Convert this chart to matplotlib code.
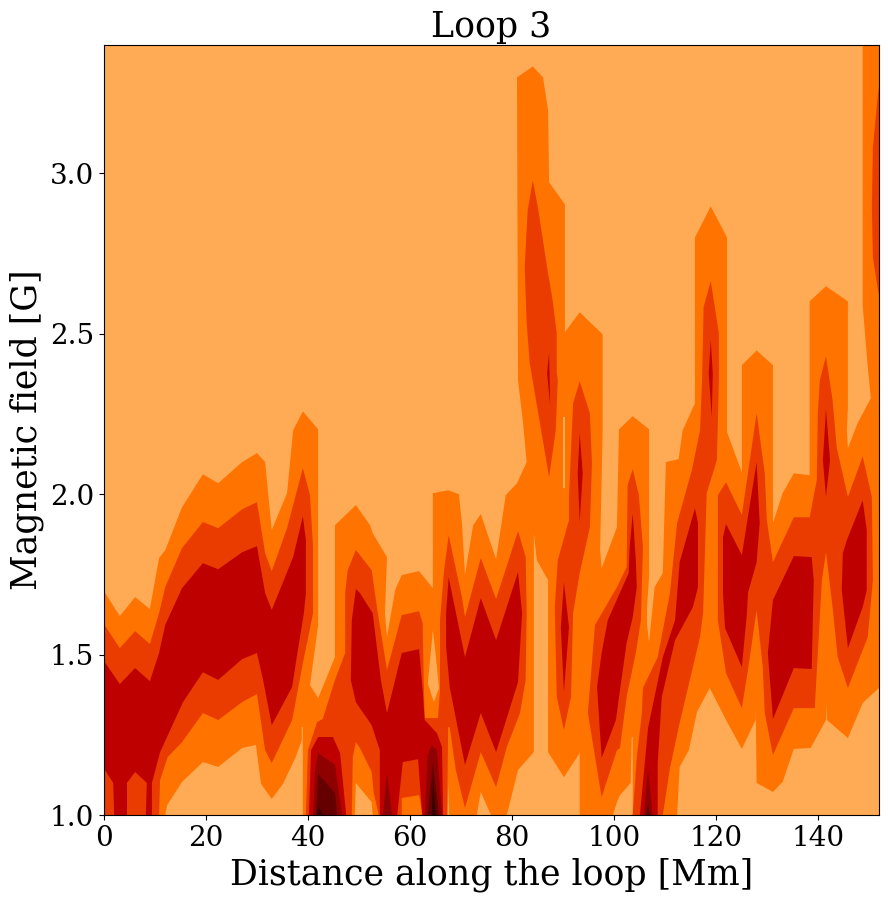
import matplotlib
matplotlib.use("Agg")
import matplotlib.pyplot as plt

plt.rcParams['font.family'] = 'DejaVu Serif'

# Band colours, low to high field density
c_base = '#ffaa55'
c_1 = '#ff7300'
c_2 = '#ea3c00'
c_3 = '#be0000'
c_4 = '#8f0000'
c_5 = '#640000'
c_6 = '#3a0000'

# Contour outlines: distance [Mm], field [G]
# level 1
l1_x = [0, 3.1, 6.1, 9.0, 10.8, 12.0, 15.3, 19.4, 22.4, 27.1, 30.0, 31.6, 32.9, 35.9, 37.1, 39.0, 42.0, 42.0, 40.4, 42.0,
        45.3, 45.3, 49.4, 52.2, 52.7, 55.5, 55.1, 55.5, 57.1, 58.4, 61.8, 64.5, 64.5, 67.5, 69.6, 70.2, 70.8, 72.4, 73.9,
        76.9, 78.8, 81.0, 82.9, 82.2, 81.2, 81.0, 84.1, 86.1, 87.1, 87.3, 90.4, 90.4, 93.3, 97.8, 97.8, 97.3, 97.6, 100.6,
        101.0, 103.7, 106.9, 106.9, 106.5, 106.5, 106.9, 108.0, 109.6, 110.2, 112.7, 113.5, 115.9, 115.9, 119.0, 122.2,
        122.2, 125.1, 125.1, 128.0, 131.2, 131.2, 133.1, 135.3, 138.4, 138.4, 141.6, 145.9, 145.9, 145.7, 145.9, 147.8,
        150.4, 149.8, 148.8, 148.8, 152, 152, 0]
l1_y = [1.698, 1.620, 1.679, 1.642, 1.801, 1.825, 1.959, 2.062, 2.034, 2.100, 2.128, 2.100, 1.888, 2.003, 2.199, 2.258,
        2.202, 1.592, 1.405, 1.364, 1.492, 1.903, 1.966, 1.903, 1.878, 1.804, 1.629, 1.554, 1.701, 1.748, 1.760, 1.707,
        2.003, 2.012, 2.000, 1.910, 1.748, 1.903, 1.938, 1.797, 1.997, 2.034, 2.100, 2.221, 2.355, 3.299, 3.333, 3.299,
        3.196, 2.972, 2.903, 2.505, 2.567, 2.498, 2.199, 1.825, 1.769, 1.897, 2.202, 2.243, 2.202, 1.741, 1.648, 1.592,
        1.539, 1.710, 1.754, 2.100, 2.109, 2.199, 2.283, 2.800, 2.897, 2.800, 2.193, 2.068, 2.402, 2.448, 2.402, 1.910,
        2.003, 2.065, 2.059, 2.601, 2.648, 2.601, 2.268, 2.199, 2.143, 2.221, 2.299, 2.396, 2.589, 3.4, 3.4, 1, 1]

# pockets of the base colour cut out of level 1
gap_x = [
    [12.0, 12.4, 15.3, 19.4, 22.4, 27.1, 29.8, 30.8, 32.9, 35.1, 37.6, 38.8, 38.8, 39.0, 39.0],
    [49.2, 49.4, 50.2, 52.5, 52.7],
    [67.4, 67.5, 67.7],
    [73.1, 73.9, 75.9],
    [79.0, 81.2, 84.3, 84.3, 84.9, 87.1, 87.1, 90.2, 93.3, 93.3],
    [99.8, 100.6, 101.2, 103.3, 103.5, 103.7, 103.7],
    [112.4, 112.9, 114.7, 116.3, 118.8, 122.0, 125.1, 127.8, 127.8, 128.0, 131.2, 133.1, 135.3, 138.6, 141.6, 141.6,
     141.8, 145.9, 148.8, 152, 152],
    [64.5, 63.7, 63.5, 64.7, 65.7, 64.9],
    [90.1, 90.4, 90.4, 90.1],
]
gap_y = [
    [1, 1.031, 1.103, 1.165, 1.150, 1.209, 1.218, 1.097, 1.050, 1.097, 1.181, 1.234, 1.274, 1.274, 1],
    [1, 1.100, 1.084, 1.040, 1],
    [1, 1.103, 1],
    [1, 1.072, 1],
    [1, 1.140, 1.196, 1.878, 1.794, 1.732, 1.196, 1.118, 1.193, 1],
    [1, 1.040, 1.062, 1.100, 1.243, 1.243, 1],
    [1, 1.150, 1.202, 1.321, 1.396, 1.296, 1.206, 1.296, 1.349, 1.100, 1.072, 1.103, 1.206, 1.209, 1.296, 1.352,
     1.296, 1.240, 1.349, 1.396, 1],
    [1.576, 1.442, 1.411, 1.352, 1.396, 1.523],
    [2.240, 2.240, 2.019, 2.019],
]

# level 2
l2_x = [
    [0, 3.1, 6.1, 9.0, 10.8, 12.0, 15.3, 19.4, 22.4, 27.1, 30.0, 31.6, 32.9, 35.9, 39.0, 40.4, 41.0, 41.0, 40.0, 39.0,
     36.9, 32.9, 31.6, 30.0, 27.1, 22.4, 19.4, 15.3, 12.5, 11.0, 10.8, 0],
    [39.6, 40.0, 41.8, 42.9, 45.3, 47.3, 47.3, 47.8, 49.4, 50.2, 52.5, 53.7, 55.5, 58.4, 61.8, 62.5, 62.7, 62.9, 65.5,
     65.9, 65.9, 66.7, 67.6, 70.2, 70.8, 73.9, 76.9, 81.2, 82.7, 82.9, 82.7, 81.6, 79.0, 76.9, 73.9, 70.8, 69.0, 67.8,
     67.5, 67.3, 62.5, 61.8, 58.4, 58.4, 53.9, 52.9, 52.5, 50.2, 49.4, 48.8, 48.6],
    [84.1, 85.1, 86.9, 88.0, 88.8, 88.8, 89.0, 88.6, 87.3, 85.5, 83.5, 82.9, 82.5, 83.1],
    [93.3, 95.3, 95.7, 95.3, 93.3, 92.0, 91.6, 90.2, 88.8, 88.4, 89.0, 91.2, 91.2, 92.0],
    [103.7, 104.9, 105.7, 105.3, 104.3, 102.5, 101.2, 100.6, 97.6, 94.9, 96.3, 100.6, 102.5, 102.7],
    [119.0, 119.8, 120.6, 120.6, 120.2, 118.2, 117.5, 116.9, 112.9, 111.0, 109.6, 103.7, 104.5, 105.5, 105.7, 108.6,
     111.0, 112.4, 115.3, 116.9, 117.3, 117.6],
    [122.0, 125.1, 128.0, 129.6, 130.0, 131.2, 135.3, 138.4, 139.8, 140.0, 140.4, 141.6, 142.9, 143.7, 145.9, 148.8,
     150.6, 150.8, 149.8, 145.9, 143.9, 142.9, 141.6, 140.8, 139.4, 135.3, 131.2, 129.6, 129.2, 128.0, 126.3, 125.1,
     122.0, 120.4, 120.4],
    [152, 151.8, 150.8, 150.6, 150.8, 151.8, 152],
]
l2_y = [
    [1.595, 1.520, 1.573, 1.533, 1.629, 1.710, 1.832, 1.913, 1.894, 1.953, 1.975, 1.816, 1.760, 1.894, 2.081, 1.997,
     1.835, 1.629, 1.551, 1.473, 1.296, 1.162, 1.202, 1.377, 1.352, 1.296, 1.318, 1.227, 1.181, 1.109, 1, 1],
    [1, 1.202, 1.290, 1.299, 1.421, 1.505, 1.692, 1.763, 1.826, 1.810, 1.763, 1.629, 1.452, 1.623, 1.635, 1.598, 1.421,
     1.302, 1.302, 1.389, 1.607, 1.763, 1.872, 1.679, 1.617, 1.801, 1.673, 1.885, 1.804, 1.629, 1.421, 1.318, 1.212,
     1.087, 1.196, 1.022, 1.140, 1.274, 1.274, 1, 1, 1.062, 1.053, 1, 1, 1.069, 1.134, 1.209, 1.227, 1.181, 1],
    [2.978, 2.894, 2.707, 2.604, 2.501, 2.377, 2.355, 2.199, 2.053, 2.221, 2.408, 2.533, 2.707, 2.885],
    [2.352, 2.252, 2.097, 1.897, 1.754, 1.629, 1.368, 1.265, 1.368, 1.648, 1.794, 1.919, 1.991, 2.283],
    [2.078, 1.997, 1.835, 1.607, 1.505, 1.368, 1.209, 1.202, 1.056, 1.318, 1.592, 1.710, 1.773, 2.028],
    [2.664, 2.583, 2.501, 2.355, 2.106, 2.003, 1.629, 1.555, 1.287, 1.146, 1, 1, 1.181, 1.318, 1.396, 1.492, 1.692,
     1.910, 2.075, 2.199, 2.355, 2.583],
    [2.037, 1.935, 2.252, 2.065, 1.919, 1.788, 1.928, 1.928, 2.044, 2.252, 2.355, 2.430, 2.293, 2.146, 1.991, 2.118,
     1.991, 1.732, 1.555, 1.396, 1.492, 1.648, 1.819, 1.732, 1.333, 1.333, 1.187, 1.318, 1.461, 1.639, 1.452, 1.333,
     1.442, 1.607, 1.997],
    [3.27, 3.249, 3.081, 2.894, 2.738, 2.636, 2.62],
]

# level 3
l3_x = [
    [0, 3.1, 6.1, 9.0, 10.8, 12.0, 15.3, 19.4, 22.4, 27.1, 30.0, 31.6, 32.9, 37.1, 39.0, 39.6, 39.6, 39.2, 37.8, 36.9,
     32.9, 31.2, 30.0, 27.1, 22.4, 19.4, 15.5, 11.0, 9.4, 9.4, 8.2, 8.4, 6.1, 4.5, 4.5, 2.0, 1.8, 0.2, 0],
    [49.4, 50.2, 52.7, 54.3, 55.5, 58.4, 61.8, 62.5, 62.9, 65.3, 66.3, 66.5, 62.4, 61.6, 58.6, 57.5, 54.1, 54.1, 52.5,
     50.2, 49.4, 48.4, 48.6],
    [42.0, 44.9, 46.3, 47.5, 40.2, 40.6],
    [67.6, 70.8, 73.9, 76.9, 81.2, 82.0, 81.2, 76.9, 73.9, 70.8, 67.8, 67.1, 67.1],
    [103.7, 104.3, 104.5, 103.7, 102.5, 101.2, 100.4, 97.6, 96.7, 97.6, 98.8, 102.9, 103.1],
    [115.9, 116.5, 116.5, 115.5, 112.0, 109.4, 108.6, 108.6, 105.1, 106.7, 109.6, 112.0, 112.9],
    [122.0, 125.1, 128.0, 128.6, 128.0, 126.3, 126.1, 125.1, 121.8, 121.4, 121.4],
    [135.3, 138.8, 139.2, 138.8, 135.3, 131.2, 130.2, 131.2],
    [148.8, 149.6, 149.6, 148.8, 145.9, 144.7, 144.9, 145.7],
    [141.6, 142.4, 141.6, 141.0],
    [119.0, 119.4, 119.2, 118.6],
    [87.3, 87.5, 86.9],
    [93.3, 93.9, 93.3, 92.9],
    [90.2, 91.2, 90.2, 89.6],
]
l3_y = [
    [1.480, 1.408, 1.458, 1.417, 1.505, 1.592, 1.707, 1.785, 1.766, 1.819, 1.838, 1.692, 1.639, 1.804, 1.931, 1.857,
     1.692, 1.629, 1.492, 1.399, 1.280, 1.421, 1.505, 1.486, 1.421, 1.445, 1.352, 1.196, 1.100, 1, 1, 1.100, 1.134,
     1.100, 1, 1, 1.100, 1.140, 1.140],
    [1.704, 1.692, 1.629, 1.421, 1.318, 1.505, 1.517, 1.389, 1.296, 1.255, 1.212, 1, 1, 1.174, 1.165, 1, 1, 1.202,
     1.280, 1.333, 1.352, 1.421, 1.607],
    [1.243, 1.243, 1.193, 1, 1, 1.202],
    [1.741, 1.492, 1.676, 1.545, 1.757, 1.629, 1.414, 1.196, 1.318, 1.156, 1.399, 1.523, 1.629],
    [1.941, 1.794, 1.710, 1.617, 1.536, 1.389, 1.296, 1.178, 1.399, 1.505, 1.607, 1.754, 1.835],
    [1.956, 1.910, 1.710, 1.648, 1.545, 1.368, 1.162, 1, 1, 1.271, 1.492, 1.607, 1.788],
    [1.907, 1.810, 2.100, 1.910, 1.788, 1.692, 1.629, 1.461, 1.583, 1.692, 1.866],
    [1.807, 1.804, 1.732, 1.455, 1.458, 1.299, 1.505, 1.670],
    [1.981, 1.888, 1.701, 1.648, 1.520, 1.701, 1.816, 1.857],
    [2.265, 2.106, 1.991, 2.106],
    [2.480, 2.377, 2.240, 2.377],
    [2.442, 2.277, 2.377],
    [2.190, 2.065, 1.913, 2.065],
    [1.726, 1.586, 1.383, 1.586],
]

# levels 4 to 6, only near the bottom
l4_x = [[42.0, 45.3, 46.7, 41.0, 41.4], [55.5, 56.5, 54.7], [64.3, 65.3, 66.3, 62.9, 63.5], [106.7, 107.6, 105.9]]
l4_y = [[1.193, 1.156, 1, 1, 1.140], [1.131, 1, 1], [1.218, 1.202, 1, 1, 1.187], [1.146, 1, 1]]
l5_x = [[42.0, 45.3, 45.7, 41.6], [64.5, 65.7, 63.5], [106.7, 107.1, 106.3]]
l5_y = [[1.128, 1.069, 1, 1], [1.165, 1, 1], [1.031, 1, 1]]
l6_x = [[42.0, 43.1, 41.8], [64.5, 65.1, 64.3]]
l6_y = [[1.025, 1, 1], [1.118, 1, 1]]

x_ticks = [0, 20, 40, 60, 80, 100, 120, 140]
y_ticks = [1.0, 1.5, 2.0, 2.5, 3.0]


def fill_level(xs, ys, color):
    for x, y in zip(xs, ys):
        ax.fill(x, y, color=color, linewidth=0)


fig = plt.figure(figsize=(8.88, 9.02), dpi=100)
ax = fig.add_axes([104 / 888, 1 - 815 / 902, 775 / 888, 770 / 902])
ax.set_facecolor(c_base)

fill_level([l1_x], [l1_y], c_1)
fill_level(gap_x, gap_y, c_base)
fill_level(l2_x, l2_y, c_2)
fill_level(l3_x, l3_y, c_3)
fill_level(l4_x, l4_y, c_4)
fill_level(l5_x, l5_y, c_5)
fill_level(l6_x, l6_y, c_6)

ax.set_xlim(0, 152)
ax.set_ylim(1.0, 3.4)
ax.set_xticks(x_ticks)
ax.set_yticks(y_ticks)
ax.tick_params(labelsize=20)
ax.set_xlabel('Distance along the loop [Mm]', fontsize=25)
ax.set_ylabel('Magnetic field [G]', fontsize=25)
ax.set_title('Loop 3', fontsize=25)

fig.savefig('out.png', dpi=100)
